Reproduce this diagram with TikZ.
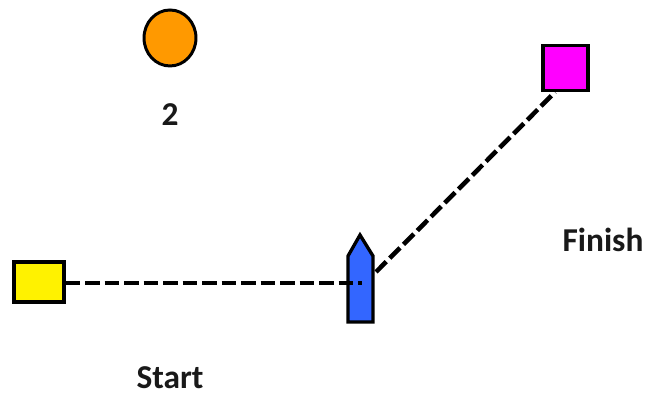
\documentclass[tikz,border=0pt]{standalone}
\usepackage{fontspec}
\setmainfont{Carlito}
\usetikzlibrary{shapes.geometric, positioning}
\definecolor{BuoyOrange}{RGB}{255, 153, 0}
\definecolor{BoatBlue}{RGB}{51, 102, 255}
\definecolor{FinishMagenta}{RGB}{255, 0, 255}
\begin{document}
\begin{tikzpicture}[
        x=0.02cm, y=-0.02cm,
        mark box/.style={rectangle, draw=black, line width=1.9pt, inner sep=0pt},
        buoy/.style={ellipse, draw=black, fill=BuoyOrange, line width=1.7pt, inner sep=0pt, minimum width=1.04cm, minimum height=1.12cm},
        boat/.style={draw=black, fill=BoatBlue, line width=1.9pt, line join=miter},
        course/.style={line width=2.6pt, dash pattern=on 8.3pt off 2.8pt},
        caption/.style={font=\bfseries\fontsize{19}{22}\selectfont, text=black!90, inner sep=0pt}
    ]
        \useasboundingbox (0,0) rectangle (649,394);
        \node (mark2) [buoy] at (170,38) {};
        \node (label2) [caption] at (170,115) {2};
        \node (start) [mark box, fill=yellow, minimum width=1cm, minimum height=0.8cm] at (39,282) {};
        \node (finish) [mark box, fill=FinishMagenta, minimum width=0.9cm, minimum height=0.9cm] at (565.5,68) {};
        \node (startlabel) [caption] at (170,378) {Start};
        \node (finishlabel) [caption] at (603,240) {Finish};

        \coordinate (boatmid) at (362,283);
        \coordinate (boatside) at (376,272);
        \draw [boat] (348,322) -- (348,256) -- (360,235) -- (373,256) -- (373,322) -- cycle;

        \draw [course] (start.east |- boatmid) -- (boatmid);
        \draw [course] (boatside) -- (finish.south west -| 555,91);
    \end{tikzpicture}
\end{document}
